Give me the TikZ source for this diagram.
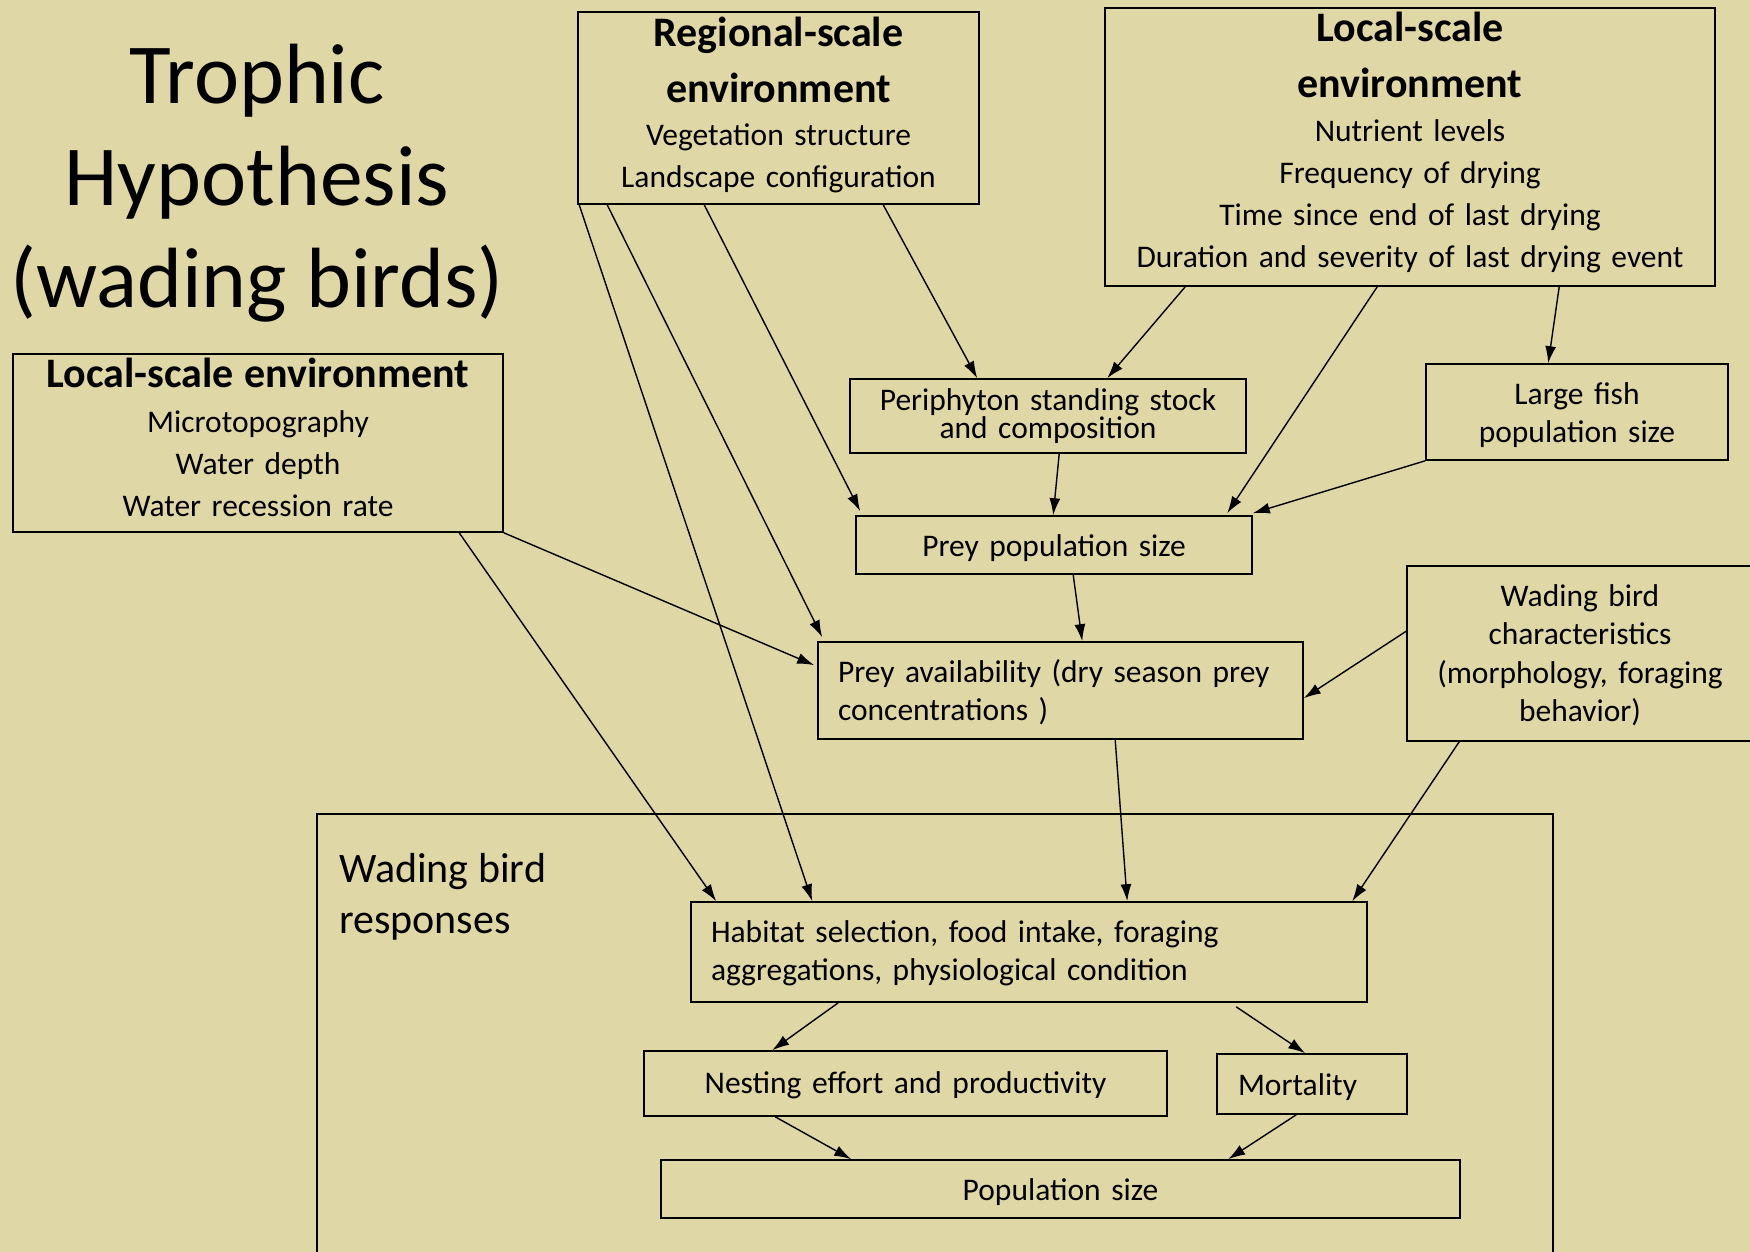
\documentclass[tikz,border=0pt]{standalone}
\usepackage{fontspec}
\setmainfont{Carlito}
\usetikzlibrary{arrows.meta}
\definecolor{tanbg}{RGB}{224,215,166}
\newcommand\boxtext{\fontsize{31.5}{42}\selectfont\mdseries}
\newcommand\boxhead{\fontsize{42}{55.5}\selectfont\bfseries}
\tikzset{
  box/.style={draw, line width=1.6pt, inner sep=0pt, align=center, font=\boxtext},
  leftbox/.style={box, align=left, inner xsep=20pt},
  arr/.style={line width=1.4pt, -{Latex[length=17pt,width=11pt]}},
  title/.style={align=center, inner sep=0pt, font=\fontsize{85.5}{102}\selectfont}
}

\begin{document}
\begin{tikzpicture}[x=1pt,y=-1pt]
\fill[tanbg] (0,0) rectangle (1750,1252);
\useasboundingbox (0,0) rectangle (1750,1252);

% title
\node[title, anchor=north] (ttl) at (257,44) {Trophic\\Hypothesis\\(wading birds)};

% environment boxes
\node[box, text width=390pt, minimum width=401pt, minimum height=192pt, text height=0pt, text depth=122.6pt] (reg) at (778.5,108)
  {\boxhead Regional-scale\\environment\par\vspace{1.5pt}\boxtext Vegetation structure\\Landscape configuration};
\node[box, text width=600pt, minimum width=610pt, minimum height=278pt, text height=0pt, text depth=210pt] (loc) at (1410,147)
  {\boxhead Local-scale\\environment\par\vspace{2.3pt}\boxtext Nutrient levels\\Frequency of drying\\Time since end of last drying\\Duration and severity of last drying event};
\node[box, text width=480pt, minimum width=490pt, minimum height=178pt, text height=0pt, text depth=111pt] (lloc) at (258,443)
  {\boxhead Local-scale environment\par\vspace{3pt}\boxtext Microtopography\\Water depth\\Water recession rate};

% prey boxes
\node[box, text width=386pt, minimum width=396pt, minimum height=74pt, text height=0pt, text depth=11.4pt, font=\fontsize{31.5}{28}\selectfont] (peri) at (1048,416)
  {Periphyton standing stock\\and composition};
\node[box, text width=292pt, minimum width=302pt, minimum height=96pt, text height=0pt, text depth=16pt, font=\fontsize{31.5}{38.2}\selectfont] (fish) at (1577,412)
  {Large fish\\population size};
\node[box, text width=386pt, minimum width=396pt, minimum height=58pt, text height=22pt, text depth=0pt] (pop) at (1054,545)
  {Prey population size};
\node[leftbox, text width=445pt, minimum height=97pt, text height=0pt, text depth=16.4pt, font=\fontsize{31.5}{37.7}\selectfont] (avail) at (1060.5,690.5)
  {Prey availability (dry season prey\\concentrations )};
\node[box, text width=336pt, minimum width=346pt, minimum height=175pt, text height=0pt, text depth=95pt, font=\fontsize{31.5}{38.6}\selectfont] (char) at (1580,653.5)
  {Wading bird\\characteristics\\(morphology, foraging\\behavior)};

% responses
\draw[line width=1.6pt] (317,814) rectangle (1553,1275);
\node[anchor=north west, align=left, inner sep=0pt, font=\fontsize{42}{51.5}\selectfont] (resp) at (339,853)
  {Wading bird\\responses};
\node[leftbox, text width=636pt, minimum height=100pt, text height=0pt, text depth=18.4pt, font=\fontsize{31.5}{37.6}\selectfont] (hab) at (1029,952)
  {Habitat selection, food intake, foraging\\aggregations, physiological condition};
\node[box, text width=513pt, minimum width=523pt, minimum height=65pt, text height=20.8pt, text depth=0pt] (nest) at (905.5,1083.5)
  {Nesting effort and productivity};
\node[leftbox, inner xsep=21pt, text width=148pt, minimum height=60pt, text height=23pt, text depth=0pt] (mort) at (1312,1084)
  {Mortality};
\node[box, text width=789pt, minimum width=799pt, minimum height=58pt, text height=22pt, text depth=0pt] (psize) at (1060.5,1189)
  {Population size};

% connectors
\draw[arr] ([xshift=2pt]reg.south west) -- ([xshift=122pt]hab.north west);
\draw[arr] ([xshift=30pt]reg.south west) -- ([xshift=5pt,yshift=4pt]avail.north west);
\draw[arr] ([xshift=127pt]reg.south west) -- ([xshift=5pt,yshift=4pt]pop.north west);
\draw[arr] ([xshift=306pt]reg.south west) -- ([xshift=128pt]peri.north west);
\draw[arr] ([xshift=81pt]loc.south west) -- ([xshift=258pt]peri.north west);
\draw[arr] ([xshift=273pt]loc.south west) -- ([xshift=372pt,yshift=2pt]pop.north west);
\draw[arr] ([xshift=455pt]loc.south west) -- ([xshift=123pt]fish.north west);
\draw[arr] (fish.south west) -- ([yshift=2pt]pop.north east);
\draw[arr] ([xshift=210pt]peri.south west) -- ([xshift=198pt]pop.north west);
\draw[arr] ([xshift=218pt]pop.south west) -- ([xshift=265pt]avail.north west);
\draw[arr] ([yshift=-66pt]char.north west) -- ([yshift=-57pt]avail.north east);
\draw[arr] (lloc.south east) -- ([xshift=-3pt,yshift=-24pt]avail.north west);
\draw[arr] ([xshift=447pt]lloc.south west) -- ([xshift=26pt]hab.north west);
\draw[arr] ([xshift=298pt]avail.south west) -- ([xshift=437pt]hab.north west);
\draw[arr] ([xshift=53pt]char.south west) -- ([xshift=662pt]hab.north west);
\draw[arr] ([xshift=148pt]hab.south west) -- ([xshift=129pt]nest.north west);
\draw[arr] ([xshift=546pt,yshift=-4pt]hab.south west) -- ([xshift=89pt]mort.north west);
\draw[arr] ([xshift=132pt]nest.south west) -- ([xshift=191pt]psize.north west);
\draw[arr] ([xshift=80pt]mort.south west) -- ([xshift=568pt]psize.north west);
\end{tikzpicture}
\end{document}
